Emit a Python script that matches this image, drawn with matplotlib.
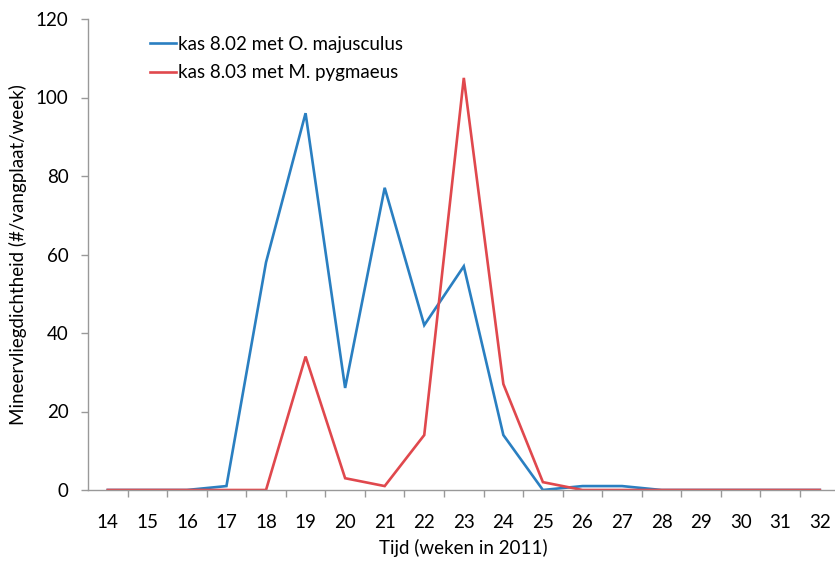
import matplotlib
matplotlib.use("Agg")
import matplotlib.pyplot as plt
from matplotlib.ticker import FixedLocator, NullFormatter

weeks = list(range(14, 33))
blue = [0, 0, 0, 1, 58, 96, 26, 77, 42, 57, 14, 0, 1, 1, 0, 0, 0, 0, 0]
red = [0, 0, 0, 0, 0, 34, 3, 1, 14, 105, 27, 2, 0, 0, 0, 0, 0, 0, 0]
labels = ["kas 8.02 met O. majusculus", "kas 8.03 met M. pygmaeus"]

plt.rcParams['font.family'] = ['Lato', 'DejaVu Sans']

W, H = 835, 565
fig = plt.figure(figsize=(W / 100, H / 100), dpi=100)
left, right = 88, 839.6
bottom, top = 490, 19
ax = fig.add_axes([left / W, (H - bottom) / H, (right - left) / W, (bottom - top) / H])

ax.plot(weeks, blue, color="#2a7fc1", lw=1.9, label=labels[0], solid_joinstyle='miter')
ax.plot(weeks, red, color="#e0484d", lw=1.9, label=labels[1], solid_joinstyle='miter')

ax.set_xlim(13.5, 32.5)
ax.set_ylim(0, 120)
ax.set_yticks(range(0, 121, 20))
ax.set_xticks(weeks)
ax.set_xticklabels([str(w) for w in weeks])
ax.tick_params(axis='x', length=0, pad=17, labelsize=13.5)
ax.xaxis.set_minor_locator(FixedLocator([w + 0.5 for w in weeks[:-1]]))
ax.xaxis.set_minor_formatter(NullFormatter())
ax.tick_params(axis='x', which='minor', length=5, color='#999999', width=1)
ax.tick_params(axis='y', length=5, color='#999999', width=1, labelsize=13.5, pad=9)

for s in ['top', 'right']:
    ax.spines[s].set_visible(False)
for s in ['left', 'bottom']:
    ax.spines[s].set_color('#999999')
    ax.spines[s].set_linewidth(1)

ax.set_xlabel("Tijd (weken in 2011)", fontsize=13.5, labelpad=6)
ax.set_ylabel("Mineervliegdichtheid (#/vangplaat/week)", fontsize=13.5, labelpad=6)

ax.legend(loc='upper left', bbox_to_anchor=(0.06, 1.0), frameon=False, fontsize=13.5,
          handlelength=1.4, handletextpad=0.1, labelspacing=0.6)

fig.savefig("out.png", dpi=100)
